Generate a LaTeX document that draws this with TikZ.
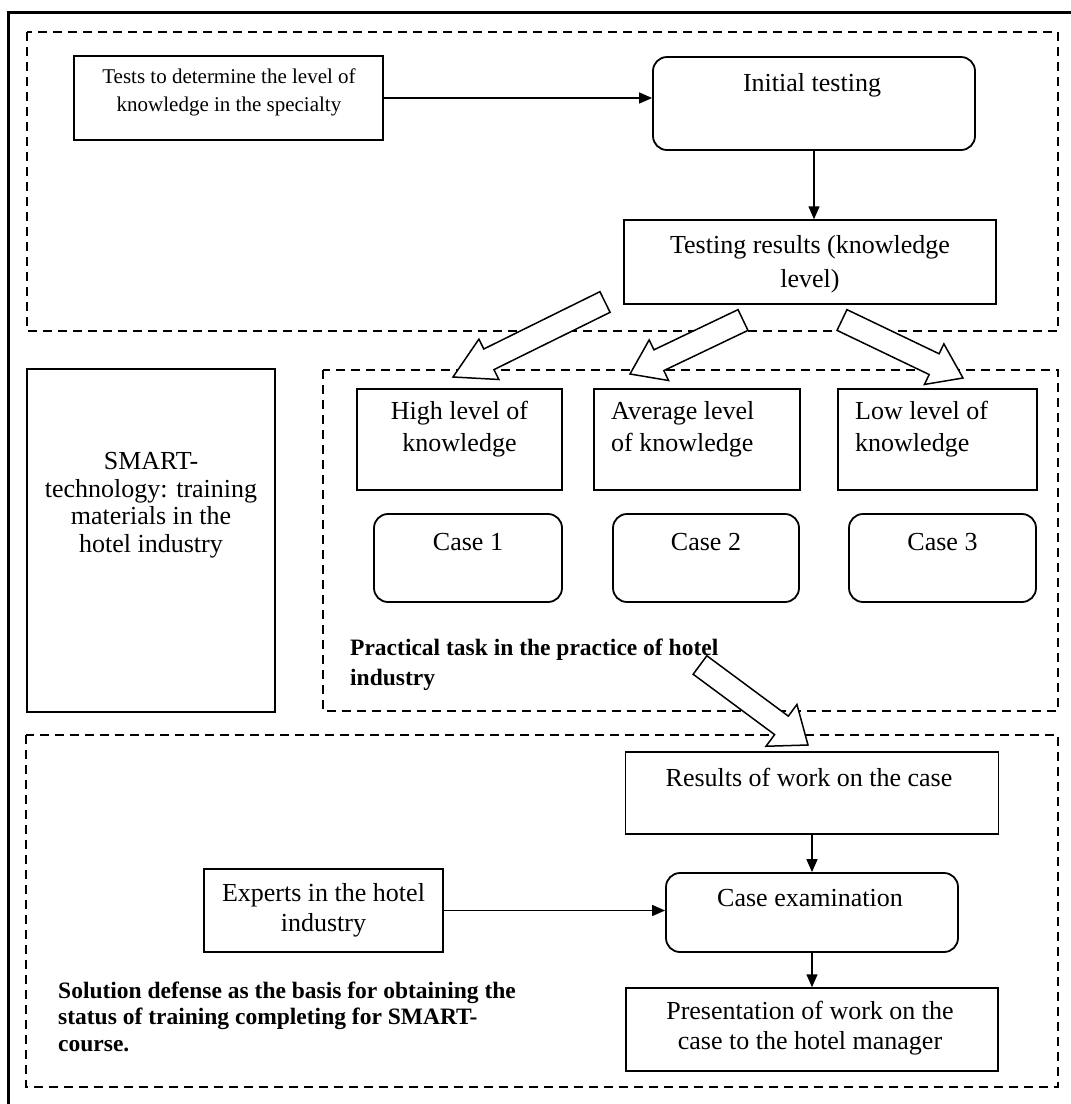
\documentclass[tikz,border=0pt]{standalone}
\usepackage{fontspec}
\setmainfont{Liberation Serif}
\usetikzlibrary{arrows.meta,calc}
\newcommand\blockarr[4]{%
  \draw[bigarrow] let \p1=(#1), \p2=(#2), \n1={atan2(\y2-\y1,\x2-\x1)}, \n2={veclen(\x2-\x1,\y2-\y1)} in
  [shift={(\p1)}, rotate=\n1]
  (0,-11.5) -- ({\n2-#3},-11.5) -- ({\n2-#3},-#4) -- ({\n2},0) -- ({\n2-#3},#4) -- ({\n2-#3},11.5) -- (0,11.5) -- cycle;}
\begin{document}
\begin{tikzpicture}[x=1pt,y=-1pt,
  box/.style={draw, line width=1.5pt, inner sep=0pt},
  rbox/.style={draw, line width=1.8pt, inner sep=0pt, rounded corners=14pt},
  dashbox/.style={line width=1.6pt, dash pattern=on 9pt off 6pt},
  txt/.style={inner sep=0pt, align=center, font=\fontsize{26}{#1}\selectfont},
  txt/.default=31,
  small/.style={inner sep=0pt, align=center, font=\fontsize{21}{28}\selectfont},
  boldtxt/.style={inner sep=0pt, align=left, anchor=west, font=\bfseries\fontsize{23.5}{#1}\selectfont},
  conn/.style={line width=1.5pt, -{Triangle[length=13pt,width=11pt]}},
  bigarrow/.style={draw, fill=white, line width=1.5pt, line join=miter}]
\fill[white] (0,0) rectangle (1071,1104);
\useasboundingbox (0,0) rectangle (1071,1104);
% outer frame
\draw[line width=2.5pt] (8.5,1110) -- (8.5,12.5) -- (1080,12.5);
% dashed containers
\draw[dashbox] (27,32) rectangle (1058,331);
\draw[dashbox] (323,370) rectangle (1058,711);
\draw[dashbox] (26,735) rectangle (1058,1087);
% top part
\node[box, minimum width=309pt, minimum height=84pt] (tests) at (228.5,98) {};
\node[small] at (229,92) {Tests to determine the level of\\knowledge in the specialty};
\node[rbox, minimum width=322pt, minimum height=93pt] (init) at (814,103.5) {};
\node[txt] at (812,85) {Initial testing};
\node[box, minimum width=372pt, minimum height=84pt] (res) at (810,262) {};
\node[txt=34] at (810,264) {Testing results (knowledge\\level)};
\draw[conn] (tests.east) -- (tests.east -| init.west);
\draw[conn] (init.south) -- (init.south |- res.north);
% left box
\node[box, minimum width=248pt, minimum height=343pt] (smart) at (151,540.5) {};
\node[txt=27.5] at (151,505) {SMART-\\technology: training\\materials in the\\hotel industry};
% middle part
\node[box, minimum width=205pt, minimum height=101pt] (high) at (459.5,439.5) {};
\node[txt=32] at (459.5,429) {High level of\\knowledge};
\node[box, minimum width=206pt, minimum height=101pt] (avg) at (697,439.5) {};
\node[txt=32, align=left, anchor=west] at (611,429) {Average level\\of knowledge};
\node[box, minimum width=199pt, minimum height=101pt] (low) at (937.5,439.5) {};
\node[txt=32, align=left, anchor=west] at (855,429) {Low level of\\knowledge};
\node[rbox, minimum width=188pt, minimum height=88pt] (case1) at (468,558) {};
\node[txt] at (468,542) {Case 1};
\node[rbox, minimum width=186pt, minimum height=88pt] (case2) at (706,558) {};
\node[txt] at (706,542) {Case 2};
\node[rbox, minimum width=187pt, minimum height=88pt] (case3) at (942.5,558) {};
\node[txt] at (942.5,542) {Case 3};
\node[boldtxt=30] at (350,665) {Practical task in the practice of hotel\\industry};
% bottom part
\node[box, minimum width=373pt, minimum height=82pt] (work) at (812,793) {};
\node[txt] at (809,777) {Results of work on the case};
\node[rbox, minimum width=292pt, minimum height=79pt] (exam) at (812,912.5) {};
\node[txt] at (810,898) {Case examination};
\node[box, minimum width=239pt, minimum height=83pt] (experts) at (323.5,910.5) {};
\node[txt=30] at (323.5,910) {Experts in the hotel\\industry};
\node[box, minimum width=372pt, minimum height=83pt] (pres) at (812,1029.5) {};
\node[txt=30] at (810,1028) {Presentation of work on the\\case to the hotel manager};
\node[boldtxt=26.5] at (58,1016.5) {Solution defense as the basis for obtaining the\\status of training completing for SMART-\\course.};
\draw[conn] (work.south) -- (work.south |- exam.north);
\draw[conn] (exam.south) -- (exam.south |- pres.north);
\draw[conn] (experts.east) -- (experts.east -| exam.west);
% block arrows
\coordinate (a1t) at (605,302); \coordinate (a1h) at (453,377);
\coordinate (a2t) at (743,320); \coordinate (a2h) at (630,374);
\coordinate (a3t) at (842,320); \coordinate (a3h) at (963,378);
\coordinate (a4t) at (700,665); \coordinate (a4h) at (808,745);
\blockarr{a1t}{a1h}{40}{22.5}
\blockarr{a2t}{a2h}{32}{22.5}
\blockarr{a3t}{a3h}{32}{22.5}
\blockarr{a4t}{a4h}{33}{26}
\end{tikzpicture}
\end{document}
